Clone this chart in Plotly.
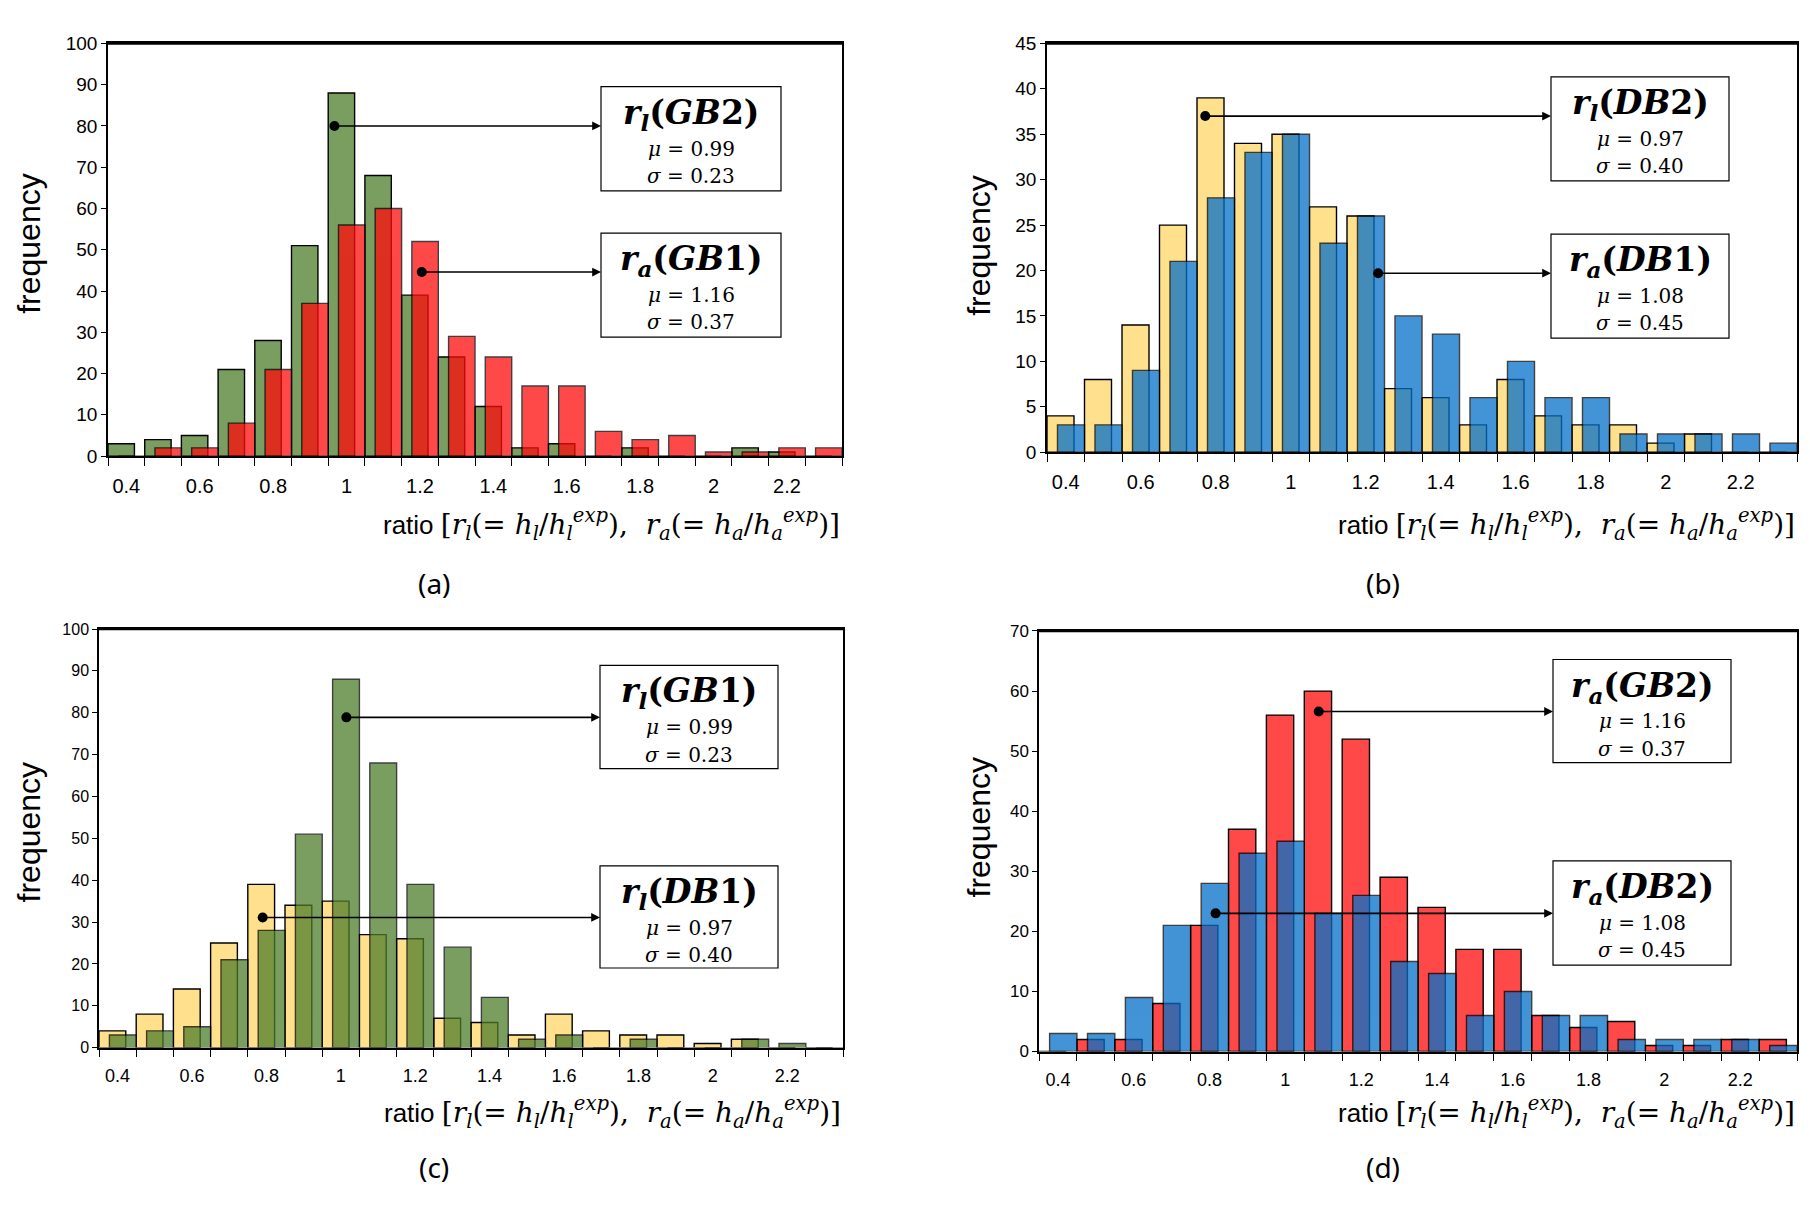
import plotly.graph_objects as go

# ---------------- data ----------------
bins = [0.4, 0.5, 0.6, 0.7, 0.8, 0.9, 1.0, 1.1, 1.2, 1.3,
        1.4, 1.5, 1.6, 1.7, 1.8, 1.9, 2.0, 2.1, 2.2, 2.3]
bin_edges = [0.35, 0.45, 0.55, 0.65, 0.75, 0.85, 0.95, 1.05, 1.15, 1.25, 1.35,
             1.45, 1.55, 1.65, 1.75, 1.85, 1.95, 2.05, 2.15, 2.25, 2.35]
x_tick_vals = [0.4, 0.6, 0.8, 1.0, 1.2, 1.4, 1.6, 1.8, 2.0, 2.2]
x_tick_text = ["0.4", "0.6", "0.8", "1", "1.2", "1.4", "1.6", "1.8", "2", "2.2"]

rl_GB = [3, 4, 5, 21, 28, 51, 88, 68, 39, 24, 12, 2, 3, 0, 2, 0, 0, 2, 1, 0]
ra_GB = [0, 2, 2, 8, 21, 37, 56, 60, 52, 29, 24, 17, 17, 6, 4, 5, 1, 1, 2, 2]
rl_DB = [4, 8, 14, 25, 39, 34, 35, 27, 26, 7, 6, 3, 8, 4, 3, 3, 1, 2, 0, 0]
ra_DB = [3, 3, 9, 21, 28, 33, 35, 23, 26, 15, 13, 6, 10, 6, 6, 2, 2, 2, 2, 1]

stats = {
    "rl_GB": (0.99, 0.23),
    "ra_GB": (1.16, 0.37),
    "rl_DB": (0.97, 0.40),
    "ra_DB": (1.08, 0.45),
}

# ---------------- styling ----------------
W, H = 1810, 1206
SANS = "Liberation Sans"
SERIF = "DejaVu Serif"
CAP = "Noto Sans"

GREEN = "#7a9e60"
GREEN_T = "rgb(78,126,43)"
RED = "#ff4848"
RED_T = "rgb(255,11,11)"
YELLOW = "#ffe08c"
BLUE_T = "rgb(4,112,200)"
ALPHA = 0.75
BAR_W = 0.072

series = {"rl_GB": rl_GB, "ra_GB": ra_GB, "rl_DB": rl_DB, "ra_DB": ra_DB}


def title_html(kind, db):
    sub = "l" if kind == "rl" else "a"
    return f"<b><i>r<sub>{sub}</sub></i>(<i>{db[:2]}</i>{db[2]})</b>"


panels = [
    dict(tag="(a)", L=108, R=842, T=34, B=454, ymax=100, dtick=10, yfs=19, xfs=20,
         bottom=("rl_GB", GREEN, 1.0), top=("ra_GB", RED_T, ALPHA),
         boxes=[("rl", "GB2", "rl_GB", 601, 781, 78, 184, 0.967, 80.0),
                ("ra", "GB1", "ra_GB", 601, 781, 227, 333, 1.205, 44.6)],
         xtitle_y=524, cap_x=434, cap_y=583, freq_x=29, freq_y=238),
    dict(tag="(b)", L=1047, R=1797, T=34, B=450, ymax=45, dtick=5, yfs=19, xfs=20,
         bottom=("rl_DB", YELLOW, 1.0), top=("ra_DB", BLUE_T, ALPHA),
         boxes=[("rl", "DB2", "rl_DB", 1551, 1729, 68, 174, 0.772, 37.0),
                ("ra", "DB1", "ra_DB", 1551, 1729, 228, 334, 1.233, 19.7)],
         xtitle_y=524, cap_x=1383, cap_y=583, freq_x=979, freq_y=240),
    dict(tag="(c)", L=99, R=843, T=630, B=1056, ymax=100, dtick=10, yfs=16, xfs=18,
         bottom=("rl_DB", YELLOW, 1.0), top=("rl_GB", GREEN_T, ALPHA),
         boxes=[("rl", "GB1", "rl_GB", 600, 778, 667, 772, 1.015, 78.9),
                ("rl", "DB1", "rl_DB", 600, 778, 871, 975, 0.79, 31.1)],
         xtitle_y=1122, cap_x=434, cap_y=1177, freq_x=29, freq_y=837),
    dict(tag="(d)", L=1039, R=1797, T=632, B=1060, ymax=70, dtick=10, yfs=17, xfs=18,
         bottom=("ra_GB", RED, 1.0), top=("ra_DB", BLUE_T, ALPHA),
         boxes=[("ra", "GB2", "ra_GB", 1553, 1731, 661, 766, 1.088, 56.6),
                ("ra", "DB2", "ra_DB", 1553, 1731, 866, 972, 0.816, 23.0)],
         xtitle_y=1122, cap_x=1383, cap_y=1177, freq_x=979, freq_y=832),
]

XR = [0.35, 2.35]

xtitle = ("ratio <span style='font-family:DejaVu Serif;font-size:28px'>[<i>r<sub>l</sub></i>(= <i>h<sub>l</sub></i>/<i>h<sub>l</sub><sup>exp</sup></i>),"
          "  <i>r<sub>a</sub></i>(= <i>h<sub>a</sub></i>/<i>h<sub>a</sub><sup>exp</sup></i>)]</span>")

fig = go.Figure()
shapes = []
annotations = []

for i, p in enumerate(panels):
    n = i + 1
    xa = "x" if n == 1 else f"x{n}"
    ya = "y" if n == 1 else f"y{n}"
    L, R, T, B = p["L"], p["R"], p["T"], p["B"]

    for (key, col, op), offset in ((p["bottom"], -0.05), (p["top"], 0.05 - BAR_W)):
        fig.add_trace(go.Bar(
            x=bins, y=series[key], width=BAR_W, offset=offset,
            marker=dict(color=col, line=dict(color="black", width=1.4)),
            opacity=op, xaxis=xa, yaxis=ya, showlegend=False, hoverinfo="skip"))

    fig.layout[f"xaxis{n}"] = dict(
        domain=[L / W, R / W], range=XR, anchor=ya,
        tickmode="array", tickvals=x_tick_vals, ticktext=x_tick_text,
        ticks="", ticklen=0, ticklabelstandoff=11,
        minor=dict(tickmode="array", tickvals=bin_edges, ticks="outside",
                   ticklen=8, tickwidth=1.2, tickcolor="black"),
        showline=True, mirror=True, linecolor="black", linewidth=1.5,
        showgrid=False, zeroline=False,
        tickfont=dict(family=SANS, size=p["xfs"], color="black"))
    fig.layout[f"yaxis{n}"] = dict(
        domain=[1 - B / H, 1 - T / H], range=[0, p["ymax"]], anchor=xa,
        dtick=p["dtick"], ticks="outside", ticklen=5, tickwidth=1.2, tickcolor="black",
        showline=True, mirror=True, linecolor="black", linewidth=1.5,
        showgrid=False, zeroline=False,
        tickfont=dict(family=SANS, size=p["yfs"], color="black"))

    # thicker top frame line
    shapes.append(dict(type="line", xref="paper", yref="paper",
                       x0=L / W, x1=R / W, y0=1 - T / H, y1=1 - T / H,
                       line=dict(color="black", width=2.5)))

    for kind, db, skey, bx0, bx1, by0, by1, dx, dy in p["boxes"]:
        shapes.append(dict(type="rect", xref="paper", yref="paper",
                           x0=bx0 / W, x1=bx1 / W, y0=1 - by1 / H, y1=1 - by0 / H,
                           line=dict(color="black", width=1.2), fillcolor="white"))
        cx = (bx0 + bx1) / 2 / W
        mu, sd = stats[skey]
        annotations.append(dict(xref="paper", yref="paper", x=cx, y=1 - (by0 + 28) / H,
                                text=title_html(kind, db), showarrow=False,
                                font=dict(family=SERIF, size=33, color="black"),
                                xanchor="center", yanchor="middle"))
        annotations.append(dict(xref="paper", yref="paper", x=cx, y=1 - (by0 + 63) / H,
                                text=f"<i>μ</i> = {mu:.2f}", showarrow=False,
                                font=dict(family=SERIF, size=20, color="black"),
                                xanchor="center", yanchor="middle"))
        annotations.append(dict(xref="paper", yref="paper", x=cx, y=1 - (by0 + 91) / H,
                                text=f"<i>σ</i> = {sd:.2f}", showarrow=False,
                                font=dict(family=SERIF, size=20, color="black"),
                                xanchor="center", yanchor="middle"))
        head_x = XR[0] + (bx0 - L) / (R - L) * (XR[1] - XR[0])
        annotations.append(dict(xref=xa, yref=ya, x=head_x, y=dy,
                                axref=xa, ayref=ya, ax=dx, ay=dy, text="",
                                showarrow=True, arrowhead=2, arrowsize=1.1,
                                arrowwidth=1.6, arrowcolor="black", standoff=0))
        fig.add_trace(go.Scatter(x=[dx], y=[dy], mode="markers",
                                 marker=dict(color="black", size=10),
                                 xaxis=xa, yaxis=ya, showlegend=False, hoverinfo="skip"))

    annotations.append(dict(xref="paper", yref="paper", x=R / W, y=1 - p["xtitle_y"] / H,
                            text=xtitle, showarrow=False, xanchor="right", yanchor="middle",
                            font=dict(family=SANS, size=26, color="black")))
    annotations.append(dict(xref="paper", yref="paper", x=p["cap_x"] / W, y=1 - p["cap_y"] / H,
                            text=p["tag"], showarrow=False, xanchor="center", yanchor="middle",
                            font=dict(family=CAP, size=28, color="black")))
    annotations.append(dict(xref="paper", yref="paper", x=p["freq_x"] / W, y=1 - p["freq_y"] / H,
                            text="frequency", showarrow=False, textangle=-90,
                            xanchor="center", yanchor="middle",
                            font=dict(family=SANS, size=32, color="black")))

fig.update_layout(
    width=W, height=H, margin=dict(l=0, r=0, t=0, b=0),
    paper_bgcolor="white", plot_bgcolor="white",
    barmode="overlay", shapes=shapes, annotations=annotations,
)

fig.write_html("out.html")
